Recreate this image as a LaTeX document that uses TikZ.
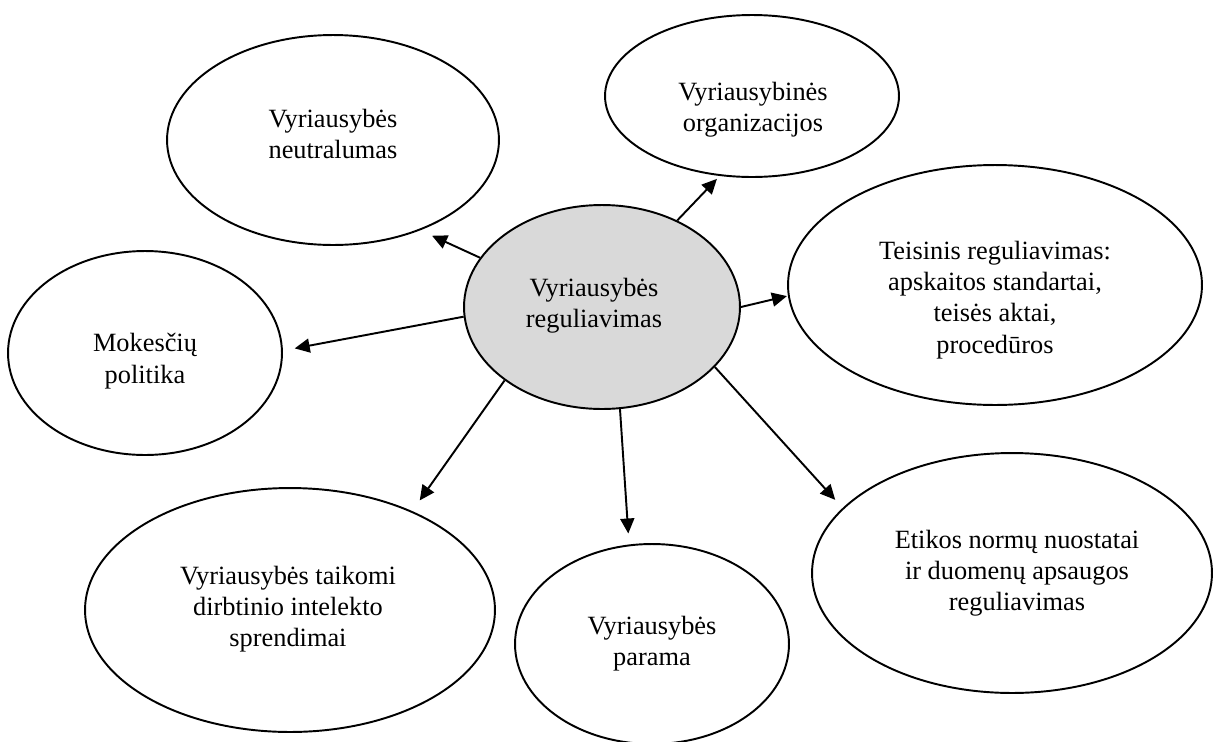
\documentclass[tikz,border=0pt]{standalone}
\usepackage{fontspec}
\setmainfont{Liberation Serif}
\usetikzlibrary{shapes.geometric,arrows.meta}
\definecolor{hubgray}{RGB}{217,217,217}
\begin{document}
\begin{tikzpicture}[x=0.02cm,y=-0.02cm,
  bubble/.style={ellipse,draw=black,line width=1.1pt,fill=white,inner sep=0pt},
  hub/.style={bubble,fill=hubgray},
  caption/.style={align=center,inner sep=0pt,font=\fontsize{15pt}{17.8pt}\selectfont},
  link/.style={line width=1.1pt,-{Triangle[length=0.3cm,width=0.28cm]}}]
\useasboundingbox (0,0) rectangle (1214,741);

% ellipses
\node[hub,minimum width=5.52cm,minimum height=4.08cm] (hub) at (602,307) {};
\node[bubble,minimum width=6.64cm,minimum height=4.2cm] (neut) at (333,140) {};
\node[bubble,minimum width=5.88cm,minimum height=3.24cm] (org) at (752,96) {};
\node[bubble,minimum width=8.28cm,minimum height=4.8cm] (law) at (995,285) {};
\node[bubble,minimum width=5.48cm,minimum height=4.08cm] (tax) at (145,353) {};
\node[bubble,minimum width=8.2cm,minimum height=4.88cm] (ai) at (290,610) {};
\node[bubble,minimum width=5.48cm,minimum height=4.0cm] (aid) at (652,644) {};
\node[bubble,minimum width=8.0cm,minimum height=4.8cm] (eth) at (1012,573) {};

% captions
\node[caption] (hubtx) at (594,306) {Vyriausybės\\reguliavimas};
\node[caption] (neuttx) at (333,134) {Vyriausybės\\neutralumas};
\node[caption] (orgtx) at (753,110) {Vyriausybinės\\organizacijos};
\node[caption] (lawtx) at (995,300) {Teisinis reguliavimas:\\apskaitos standartai,\\teisės aktai,\\procedūros};
\node[caption] (taxtx) at (145,361) {Mokesčių\\politika};
\node[caption] (aitx) at (288,609) {Vyriausybės taikomi\\dirbtinio intelekto\\sprendimai};
\node[caption] (aidtx) at (652,644) {Vyriausybės\\parama};
\node[caption] (ethtx) at (1017,573) {Etikos normų nuostatai\\ir duomenų apsaugos\\reguliavimas};

% arrows from the hub
\draw[link,shorten >=0.26cm] (hub.158.4) -- (neut.314.7);
\draw[link,shorten >=0.24cm] (hub.184) -- (tax.1.2);
\draw[link,shorten >=0.08cm] (hub.49.6) -- (org.248.5);
\draw[link,shorten >=0.02cm] (hub.0) -- (law.183.3);
\draw[link,shorten >=0.26cm] (hub.217) -- (ai.39.3);
\draw[link,shorten >=0.22cm] (hub.280.7) -- (aid.103.8);
\draw[link,shorten >=0.22cm] (hub.332.6) -- (eth.159.5);
\end{tikzpicture}
\end{document}
